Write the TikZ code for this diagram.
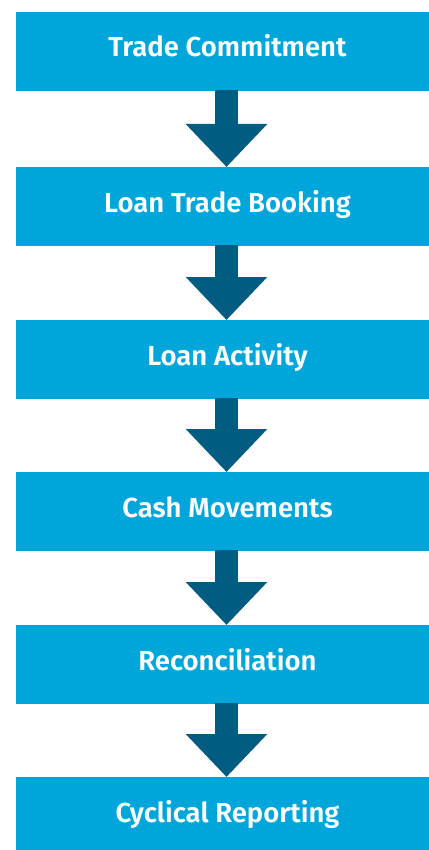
\documentclass[tikz,border=0pt]{standalone}
\usepackage{fontspec}
\setmainfont{Fira Sans}[UprightFont=* SemiBold]
\usetikzlibrary{arrows.meta}
\definecolor{boxblue}{RGB}{0,166,217}
\definecolor{arrowblue}{RGB}{0,92,128}
\tikzset{
  stepbox/.style={fill=boxblue, minimum width=422pt, minimum height=78.5pt, inner sep=0pt, anchor=north west},
  steptext/.style={text=white, font=\fontsize{27.5}{33}\selectfont, anchor=base},
  flowarrow/.style={draw=arrowblue, line width=23.5pt, -{Triangle[width=79pt,length=43pt]}, shorten <=-0.5pt},
}
\begin{document}
\begin{tikzpicture}[x=1pt,y=-1pt]
\useasboundingbox (0,0) rectangle (428,850);
\coordinate (ax) at (226.5,0);
\foreach \n/\t/\lab in {1/12/Trade Commitment,2/167/Loan Trade Booking,3/320/Loan Activity,4/472/Cash Movements,5/625/Reconciliation,6/777/Cyclical Reporting}{
  \node[stepbox] (b\n) at (16,\t) {};
  \node[steptext] (t\n) at (227.5,\t+45) {\lab};
}
\foreach \a/\b in {1/2,2/3,3/4,4/5,5/6}{
  \draw[flowarrow] (b\a.south -| ax) -- (b\b.north -| ax);
}
\end{tikzpicture}
\end{document}
